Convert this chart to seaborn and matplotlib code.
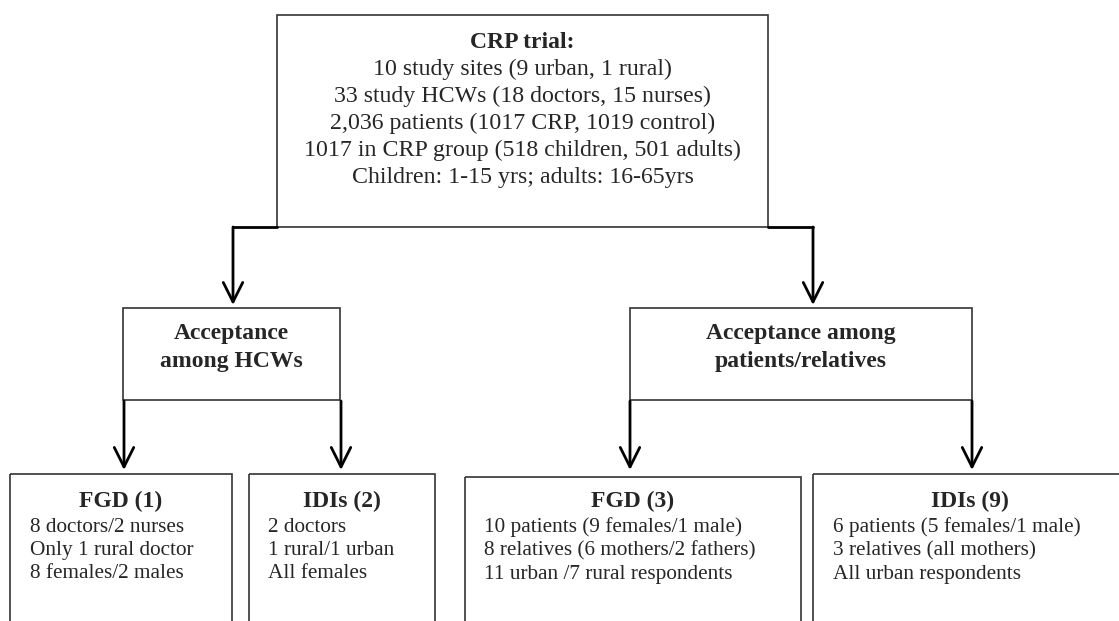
import matplotlib
matplotlib.use("Agg")
import matplotlib.pyplot as plt
import matplotlib.patches as patches
import seaborn as sns

sns.set_style("white")
plt.rcParams['font.family'] = ['Liberation Serif', 'DejaVu Serif']

# box contents
top_title = "CRP trial:"
top_lines = ["10 study sites (9 urban, 1 rural)",
             "33 study HCWs (18 doctors, 15 nurses)",
             "2,036 patients (1017 CRP, 1019 control)",
             "1017 in CRP group (518 children, 501 adults)",
             "Children: 1-15 yrs; adults: 16-65yrs"]

mid_titles = [["Acceptance", "among HCWs"],
              ["Acceptance among", "patients/relatives"]]

leaf_titles = ["FGD (1)", "IDIs (2)", "FGD (3)", "IDIs (9)"]
leaf_lines = [["8 doctors/2 nurses", "Only 1 rural doctor", "8 females/2 males"],
              ["2 doctors", "1 rural/1 urban", "All females"],
              ["10 patients (9 females/1 male)", "8 relatives (6 mothers/2 fathers)",
               "11 urban /7 rural respondents"],
              ["6 patients (5 females/1 male)", "3 relatives (all mothers)",
               "All urban respondents"]]

# layout (pixels, y down)
W, H = 1119, 621
top_box = (277, 15, 768, 227)
mid_boxes = [(123, 308, 340, 400), (630, 308, 972, 400)]
leaf_boxes = [(10, 474, 232, 640), (249, 474, 435, 640),
              (465, 477, 801, 640), (813, 474, 1135, 640)]
mid_arrow_x = [233, 813]
leaf_arrow_x = [124, 341, 630, 972]
leaf_text_x = [30, 268, 484, 833]

fig = plt.figure(figsize=(W / 100, H / 100), dpi=100)
ax = fig.add_axes([0, 0, 1, 1])
ax.set_xlim(0, W)
ax.set_ylim(H, 0)
ax.axis("off")

box_kw = dict(fill=False, edgecolor="#333333", linewidth=1.2)
arrow_kw = dict(arrowstyle="->,head_length=1.4,head_width=0.7", color="black",
                linewidth=2, shrinkA=0, shrinkB=0)


def box(b):
    x0, y0, x1, y1 = b
    ax.add_patch(patches.Rectangle((x0, y0), x1 - x0, y1 - y0, **box_kw))


# top box
box(top_box)
cx = (top_box[0] + top_box[2]) / 2
ax.text(cx, 42, top_title, ha="center", va="center", fontsize=17, fontweight="bold")
for i, line in enumerate(top_lines):
    ax.text(cx, 69 + i * 27.2, line, ha="center", va="center", fontsize=17.2)

# connectors from top box to middle boxes
ax.plot([mid_arrow_x[0], top_box[0]], [227, 227], color="black", lw=2)
ax.plot([top_box[2], mid_arrow_x[1]], [227, 227], color="black", lw=2)
for x in mid_arrow_x:
    ax.annotate("", xy=(x, 305), xytext=(x, 227), arrowprops=arrow_kw)

# middle boxes
for b, lines in zip(mid_boxes, mid_titles):
    box(b)
    mx = (b[0] + b[2]) / 2
    for i, line in enumerate(lines):
        ax.text(mx, 334 + i * 27, line, ha="center", va="center",
                fontsize=17, fontweight="bold")

# arrows to leaf boxes
for x in leaf_arrow_x:
    ax.annotate("", xy=(x, 470), xytext=(x, 401), arrowprops=arrow_kw)

# leaf boxes
for b, t, lines, tx in zip(leaf_boxes, leaf_titles, leaf_lines, leaf_text_x):
    box(b)
    lx = (b[0] + b[2]) / 2
    if b[2] > W:
        lx = 970
    ax.text(lx, 501, t, ha="center", va="center", fontsize=17, fontweight="bold")
    for i, line in enumerate(lines):
        ax.text(tx, 527 + i * 23.5, line, ha="left", va="center", fontsize=15.3)

fig.savefig("out.png", dpi=100, facecolor="white")
